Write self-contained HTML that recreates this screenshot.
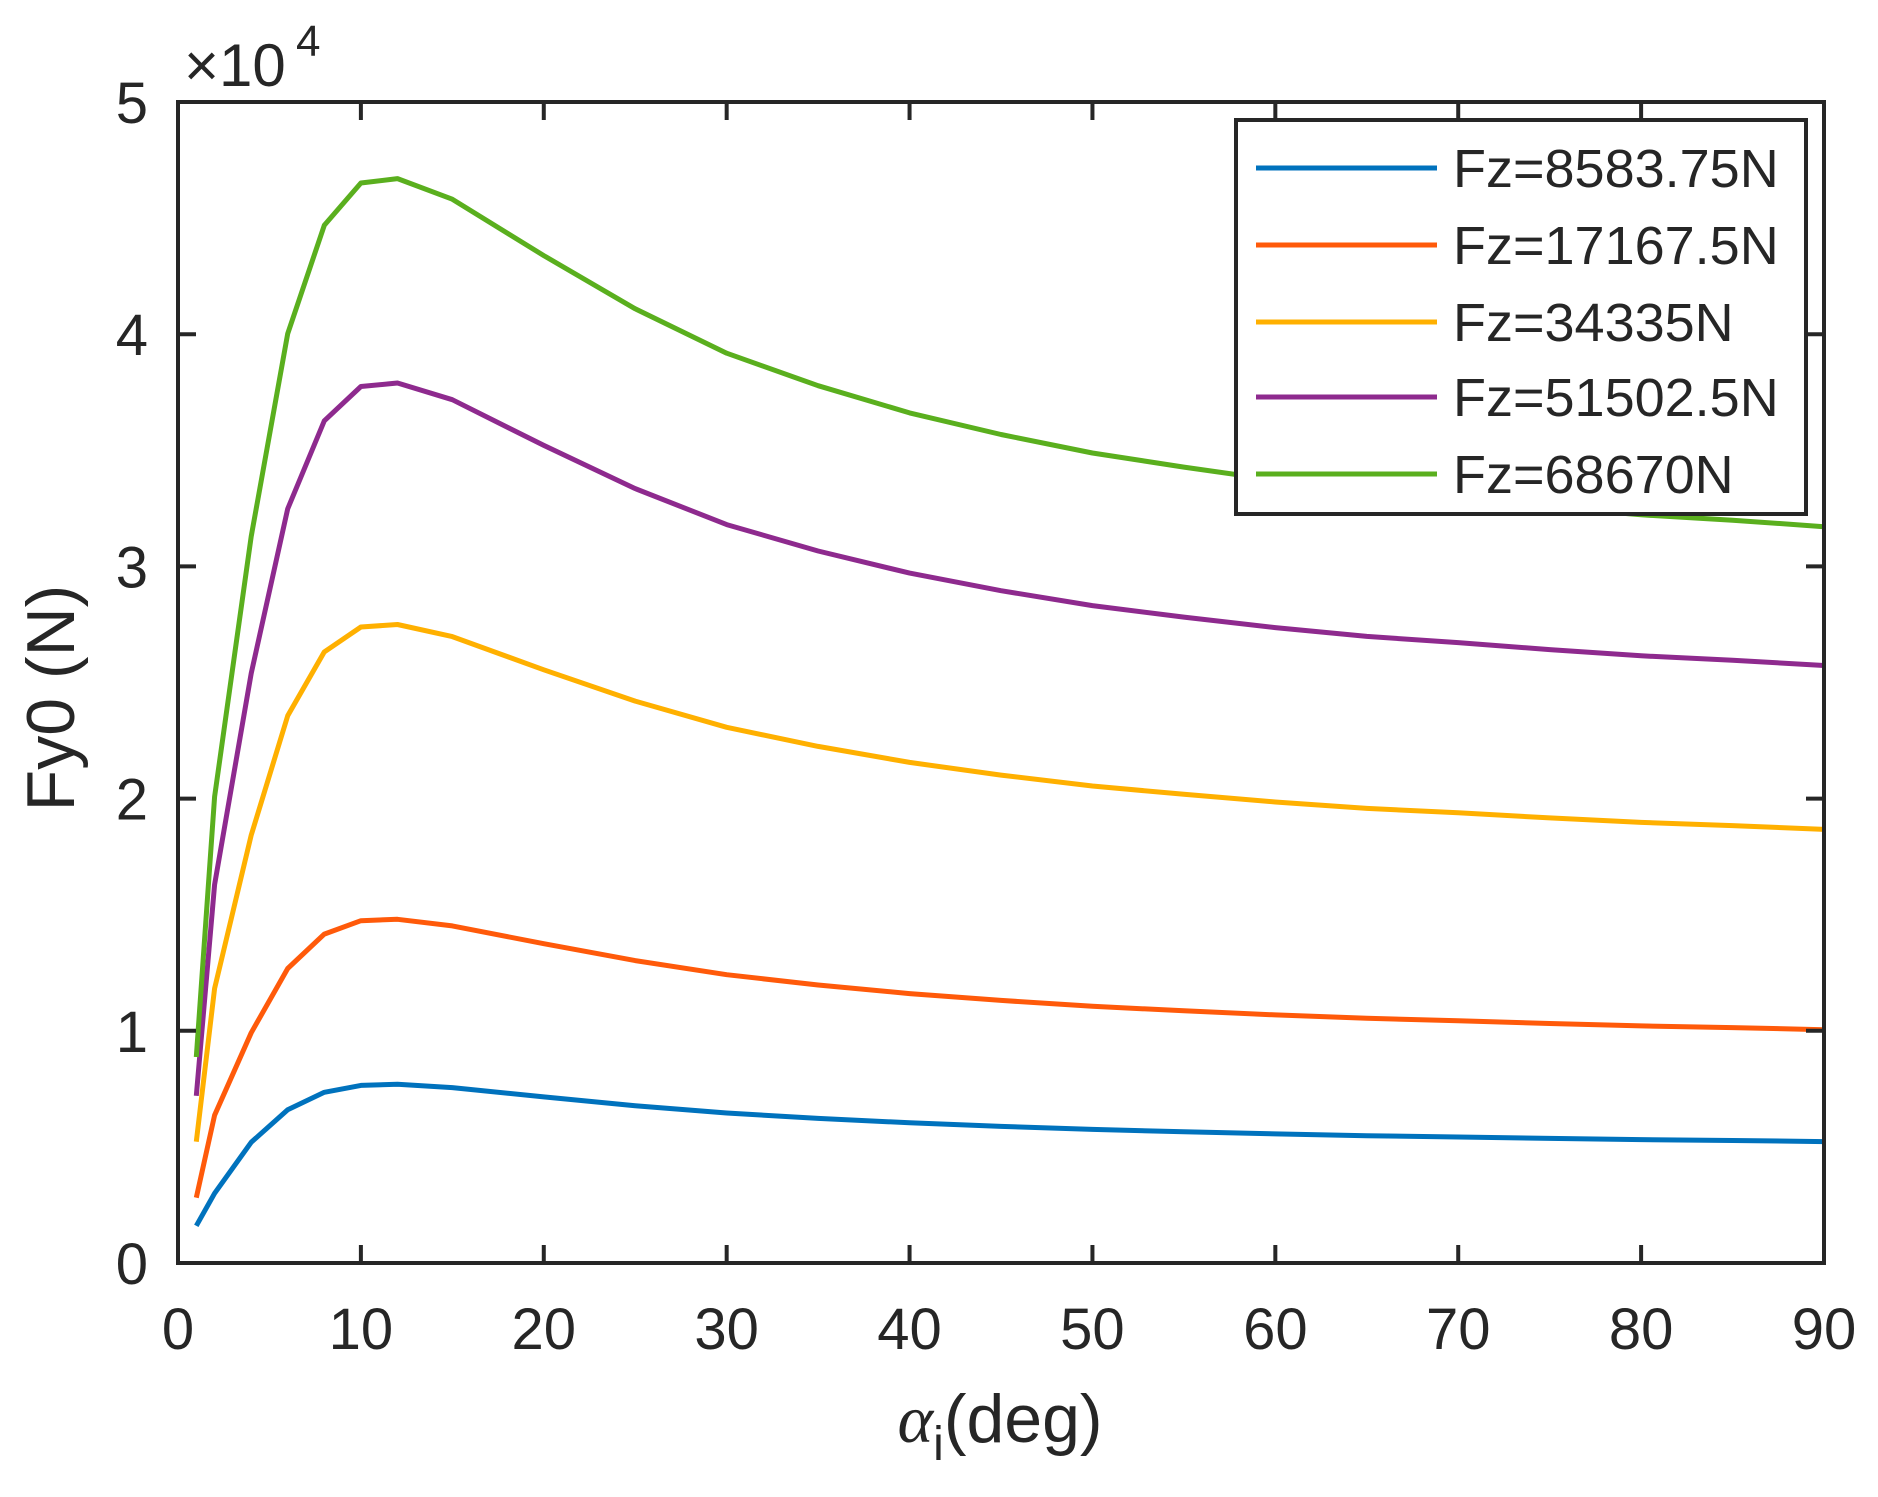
<!DOCTYPE html>
<html><head><meta charset="utf-8"><style>
html,body{margin:0;padding:0;background:#fff;}
svg{display:block;}
text{font-family:"Liberation Sans",Arial,sans-serif;fill:#262626;}
</style></head><body>
<svg id="s" width="1878" height="1497" viewBox="0 0 1878 1497" xmlns="http://www.w3.org/2000/svg">
<rect width="1878" height="1497" fill="#fff"/>
<g id="series" fill="none" stroke-width="5" stroke-linejoin="round"></g>
<g id="ticks" stroke="#262626" stroke-width="4"></g>
<rect x="178" y="102" width="1646" height="1161" fill="none" stroke="#262626" stroke-width="4"/>
<g id="labels" font-size="58"></g>
<text x="184" y="86" font-size="60">×10</text>
<text x="296" y="56" font-size="44">4</text>
<text transform="translate(74,698) rotate(-90)" font-size="68" text-anchor="middle">Fy0 (N)</text>
<text x="1000" y="1442" font-size="68" text-anchor="middle"><tspan font-family="Liberation Serif" font-style="italic">α</tspan><tspan font-size="48" dy="18">i</tspan><tspan dy="-18">(deg)</tspan></text>
<rect x="1236" y="120" width="570" height="394" fill="#fff" stroke="#262626" stroke-width="4"/>
<g font-size="54">
<line x1="1256" y1="168" x2="1437" y2="168" stroke="#0072BD" stroke-width="5"/><text x="1453" y="187">Fz=8583.75N</text>
<line x1="1256" y1="245" x2="1437" y2="245" stroke="#FF5A0A" stroke-width="5"/><text x="1453" y="264">Fz=17167.5N</text>
<line x1="1256" y1="322" x2="1437" y2="322" stroke="#FFB000" stroke-width="5"/><text x="1453" y="341">Fz=34335N</text>
<line x1="1256" y1="397" x2="1437" y2="397" stroke="#8E2A8E" stroke-width="5"/><text x="1453" y="416">Fz=51502.5N</text>
<line x1="1256" y1="474" x2="1437" y2="474" stroke="#5AAF1E" stroke-width="5"/><text x="1453" y="493">Fz=68670N</text>
</g>
</svg>
<script>
var NS="http://www.w3.org/2000/svg";
function X(v){return 178+v*1646/90;}
function Y(v){return 1263-v*1161/5;}
var xs=[1,2,4,6,8,10,12,15,20,25,30,35,40,45,50,55,60,65,70,75,80,85,90];
var s=[0.19,0.43,0.67,0.857,0.957,0.996,1,0.981,0.929,0.88,0.839,0.809,0.784,0.764,0.747,0.734,0.722,0.712,0.705,0.697,0.69,0.685,0.679];
var sb=[0.16,0.30,0.52,0.66,0.735,0.765,0.77].concat(s.slice(7).map(function(v){return v*0.77;}));
var ser=[["#0072BD",null],["#FF5A0A",1.48],["#FFB000",2.75],["#8E2A8E",3.79],["#5AAF1E",4.67]];
var g=document.getElementById("series");
ser.forEach(function(c){
 var p=xs.map(function(x,i){var v=c[1]===null?sb[i]:s[i]*c[1];return X(x).toFixed(1)+","+Y(v).toFixed(1);}).join(" ");
 var pl=document.createElementNS(NS,"polyline");pl.setAttribute("points",p);pl.setAttribute("stroke",c[0]);g.appendChild(pl);
});
var t=document.getElementById("ticks"),l=document.getElementById("labels");
function ln(a,b,c,d){var e=document.createElementNS(NS,"line");e.setAttribute("x1",a);e.setAttribute("y1",b);e.setAttribute("x2",c);e.setAttribute("y2",d);t.appendChild(e);}
function tx(x,y,s,a){var e=document.createElementNS(NS,"text");e.setAttribute("x",x);e.setAttribute("y",y);e.setAttribute("text-anchor",a);e.textContent=s;l.appendChild(e);}
for(var i=0;i<=90;i+=10){var x=X(i);ln(x,1263,x,1245);ln(x,102,x,120);tx(x,1349,String(i),"middle");}
for(var j=0;j<=5;j++){var y=Y(j);ln(178,y,196,y);ln(1824,y,1806,y);tx(148,y+21,String(j),"end");}
</script>
</body></html>
